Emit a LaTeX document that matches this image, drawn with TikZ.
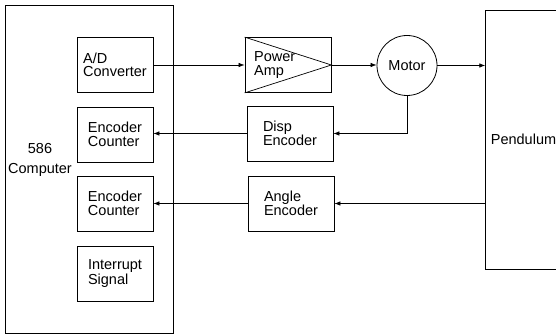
\documentclass[tikz,border=0pt]{standalone}
\usepackage{fontspec}
\setmainfont{Liberation Sans}
\usetikzlibrary{arrows.meta,calc}
\begin{document}
\begin{tikzpicture}[x=1pt,y=1pt,
  every node/.style={font=\fontsize{14.5}{13.5}\selectfont},
  blk/.style={draw,line width=0.8pt,rectangle,minimum width=76pt,minimum height=55pt,align=left,inner sep=0pt},
  wblk/.style={blk,minimum width=86pt},
  wire/.style={line width=0.7pt},
  arr/.style={wire,-{Latex[length=6pt,width=4.5pt]}}]
\useasboundingbox (0,0) rectangle (556,-336);
% computer
\node[draw,line width=0.8pt,minimum width=168pt,minimum height=328pt,inner sep=0pt] (comp) at (89,-169) {};
\node[align=center] (complbl) at (40,-160) {586\\[6pt]Computer};
\node[blk] (ad) at (115,-65) {A/D\\Converter};
\node[blk] (ec1) at (115,-134.5) {Encoder\\Counter};
\node[blk] (ec2) at (115,-203.5) {Encoder\\Counter};
\node[blk] (intr) at (115,-273.5) {Interrupt\\Signal};
% power amp
\node[wblk] (amp) at (288,-65) {};
\draw[wire] (amp.north west) -- (amp.east) -- (amp.south west);
\node[anchor=west,align=left] (amptext) at ($(amp.west)+(6,0)$) {Power\\Amp};
\node[wblk] (disp) at (290,-133.5) {Disp\\Encoder};
\node[wblk] (angle) at (291,-203.5) {Angle\\Encoder};
% motor
\node[draw,line width=0.8pt,circle,minimum size=60pt,inner sep=0pt] (motor) at (407,-65.5) {Motor};
% pendulum (open on the right, beyond the page edge)
\node[minimum width=76pt,minimum height=259pt,inner sep=0pt] (pend) at (523.5,-139.5) {Pendulum};
\draw[line width=0.8pt] (556,-10) -- (485,-10) -- (485,-269) -- (556,-269);
% connectors
\draw[arr] (ad.east) -- (ad.east -| amp.west);
\draw[arr] (amp.east) -- (amp.east -| motor.west);
\draw[arr] (motor.east) -- (motor.east -| pend.west);
\draw[arr] (motor.south) |- (disp.east);
\draw[arr] (disp.west) -- (disp.west -| ec1.east);
\draw[arr] (pend.west |- angle.east) -- (angle.east);
\draw[arr] (angle.west) -- (angle.west -| ec2.east);
\end{tikzpicture}
\end{document}
